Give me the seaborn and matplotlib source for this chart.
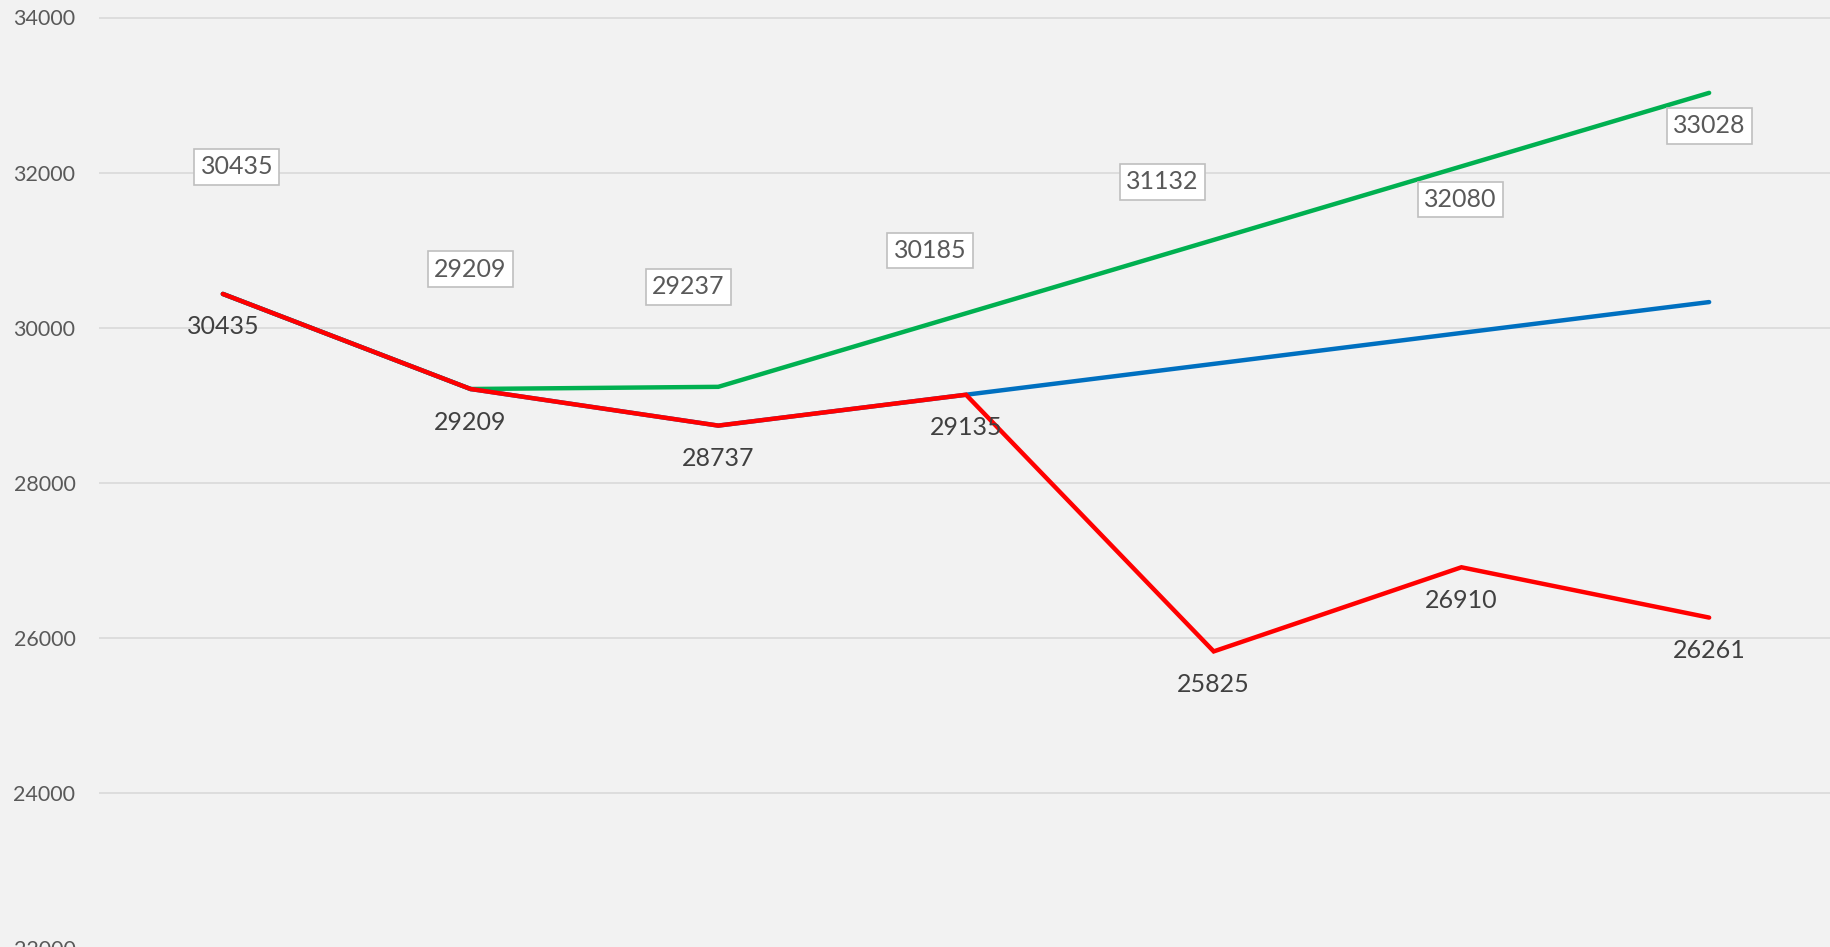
import matplotlib
matplotlib.use("Agg")
import matplotlib.pyplot as plt
import seaborn as sns
import pandas as pd
import numpy as np

# ---- data ----
categories = [0, 1, 2, 3, 4, 5, 6]
green_values = [30435, 29209, 29237, 30185, 31132, 32080, 33028]
blue_values = [30435, 29209, 28737, 29135, 29533, 29932, 30330]
red_values = [30435, 29209, 28737, 29135, 25825, 26910, 26261]
y_ticks = [22000, 24000, 26000, 28000, 30000, 32000, 34000]

# ---- styles (label offsets in pixels) ----
green_label_offsets = [(14, 127), (0, 120), (-30, 100), (-36, 63), (-51, 58), (-1, -33), (0, -33)]
red_label_offset = -33

sns.set_theme(style="white")
plt.rcParams['font.family'] = ['Lato', 'DejaVu Sans']

df = pd.DataFrame({
    "x": categories * 3,
    "y": green_values + blue_values + red_values,
    "series": ["green"] * 7 + ["blue"] * 7 + ["red"] * 7,
})
palette = {"green": "#00b050", "blue": "#0070c0", "red": "#ff0000"}

fig = plt.figure(figsize=(18.31, 9.47), dpi=100)
fig.patch.set_facecolor("#f2f2f2")
ax = fig.add_axes([99 / 1831, -1 / 947, 1734 / 1831, (947 - 17.5 + 1) / 947])
ax.set_facecolor("#f2f2f2")

sns.lineplot(data=df, x="x", y="y", hue="series", palette=palette, hue_order=["green", "blue", "red"],
             linewidth=3.2, ax=ax, legend=False, sort=False, solid_capstyle="round", solid_joinstyle="miter")

ax.set_xlim(-0.5, 6.5)
ax.set_ylim(22000, 34000)
ax.set_yticks(y_ticks)
ax.set_yticklabels([str(v) for v in y_ticks])
ax.set_xticks([])
ax.yaxis.grid(True, color="#d9d9d9", linewidth=1.2)
ax.set_axisbelow(True)
for s in ax.spines.values():
    s.set_visible(False)
ax.tick_params(axis="y", length=0, pad=17, labelsize=15.5, labelcolor="#595959")
ax.set_xlabel("")
ax.set_ylabel("")

# green boxed labels
for x, v, (dx, dy) in zip(categories, green_values, green_label_offsets):
    ax.annotate(str(v), xy=(x, v), xytext=(dx * 0.72, dy * 0.72), textcoords="offset points",
                ha="center", va="center", fontsize=18, color="#595959", zorder=5,
                bbox=dict(boxstyle="square,pad=0.25", facecolor="white", edgecolor="#bfbfbf", linewidth=1.2))

# red labels
for x, v in zip(categories, red_values):
    ax.annotate(str(v), xy=(x, v), xytext=(0, red_label_offset * 0.72), textcoords="offset points",
                ha="center", va="center", fontsize=18, color="#404040", zorder=5)

fig.savefig("out.png", dpi=100, facecolor=fig.get_facecolor())
